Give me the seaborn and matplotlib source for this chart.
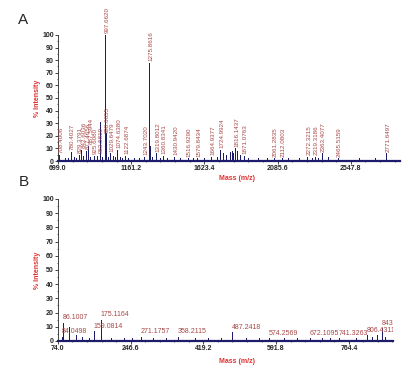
import numpy as np
import pandas as pd
import seaborn as sns
import matplotlib.pyplot as plt

# Panel A - labelled peaks (m/z, % intensity)
a_mz = [708.4006, 780.4027, 829.3791, 842.6036, 877.4656, 887.5944, 925.6080,
        963.5810, 997.6620, 998.6655, 1029.6479, 1074.6380, 1122.6874,
        1243.7020, 1275.8616, 1319.8012, 1360.8341, 1430.9420, 1516.9290,
        1579.8434, 1664.9377, 1724.9924, 1816.1437, 1871.0763, 2061.2835,
        2112.0803, 2272.3215, 2319.3186, 2363.4077, 2465.5159, 2771.6497]
a_int = [5, 7, 5, 9, 8, 12, 4, 31, 100, 55, 6, 9, 4, 3, 78, 6, 4, 3, 2, 2, 3,
         9, 10, 4, 2, 2, 3, 3, 6, 2, 6]
# Panel A - small unlabelled peaks
a_mz_minor = [740.5, 760.3, 800.2, 815.4, 855.3, 900.5, 945.6, 964.6, 980.2,
              999.66, 1000.7, 1015.3, 1045.2, 1060.6, 1090.4, 1105.3, 1140.2,
              1180.5, 1210.4, 1276.86, 1277.87, 1295.1, 1340.6, 1390.2,
              1470.8, 1550.3, 1620.5, 1700.4, 1742.1, 1760.6, 1785.3, 1798.2,
              1805.9, 1828.4, 1845.1, 1900.3, 1960.8, 2020.4, 2150.6, 2220.3,
              2300.5, 2340.2, 2400.6, 2600.3, 2700.5]
a_int_minor = [2, 2, 3, 2, 4, 3, 4, 12, 3, 22, 6, 3, 4, 3, 3, 2, 2, 2, 2, 40,
               12, 3, 2, 2, 2, 2, 2, 3, 6, 5, 7, 8, 6, 8, 5, 2, 2, 2, 2, 2, 2,
               2, 3, 2, 2]
a_ticks = [699.0, 1161.2, 1623.4, 2085.6, 2547.8]

# Panel B - labelled peaks
b_mz = [84.0498, 86.1007, 159.0814, 175.1164, 271.1757, 358.2115, 487.2418,
        574.2569, 672.1095, 741.3263, 806.4311, 843.4816]
b_int = [3, 13, 7, 15, 3, 3, 6, 2, 2, 2, 4, 9]
b_mz_minor = [101.1, 116.2, 130.1, 147.1, 200.1, 230.2, 250.1, 300.2, 330.2,
              400.3, 430.2, 460.3, 520.3, 550.3, 610.4, 640.3, 700.4, 720.4,
              780.4, 820.4, 830.5, 850.5]
b_int_minor = [10, 4, 3, 2, 2, 2, 2, 2, 2, 2, 2, 2, 2, 2, 2, 2, 2, 2, 2, 3, 4, 3]
b_ticks = [74.0, 246.6, 419.2, 591.8, 764.4]

peak_col = "#1c1c6a"
lab_col = "#a84848"
red = "#e03030"


def sticks(mz, inten):
    # turn peak list into a stick spectrum: baseline-top-baseline per peak
    rows = []
    for m, h in sorted(zip(mz, inten)):
        rows += [(m, 0.0), (m, h), (m, 0.0)]
    return pd.DataFrame(rows, columns=["mz", "int"])


sns.set_style("ticks")
plt.rcParams["font.family"] = ["Liberation Sans", "DejaVu Sans"]

fig = plt.figure(figsize=(4.08, 3.68), dpi=100)
axA = fig.add_axes([0.142, 0.5625, 0.838, 0.3425])
axB = fig.add_axes([0.142, 0.0734, 0.821, 0.386])

dfA = sticks(a_mz + a_mz_minor, a_int + a_int_minor)
dfB = sticks(b_mz + b_mz_minor, b_int + b_int_minor)

sns.lineplot(data=dfA, x="mz", y="int", sort=False, estimator=None,
             color=peak_col, lw=0.7, ax=axA)
sns.lineplot(data=dfB, x="mz", y="int", sort=False, estimator=None,
             color=peak_col, lw=0.7, ax=axB)

# labels A: rotated, on top of the peaks; low labels pushed apart a bit
low_label = {998.6655: 22, 963.5810: 6}
prev = -1e9
for m, h in zip(a_mz, a_int):
    y = low_label.get(m, h + 1.5)
    if y < 40:
        lx = max(m + 10, prev + 24)
        prev = lx
    else:
        lx = m + 10
    axA.text(lx, y, f"{m:.4f}", rotation=90, ha="center", va="bottom",
             fontsize=4.5, color=lab_col, clip_on=False)

# labels B: horizontal
for m, h in zip(b_mz, b_int):
    axB.text(m, h + 1, f"{m:.4f}", ha="left", va="bottom",
             fontsize=5, color=lab_col, clip_on=True)

for ax, ticks, xmax in [(axA, a_ticks, 2857), (axB, b_ticks, 869)]:
    ax.set_xlim(ticks[0], xmax)
    ax.set_ylim(0, 100)
    ax.set_xticks(ticks)
    ax.set_xticklabels([f"{t:.1f}" for t in ticks], fontsize=5, fontweight="bold")
    ax.set_yticks(range(0, 101, 10))
    ax.set_yticklabels([str(v) for v in range(0, 101, 10)], fontsize=5,
                       fontweight="bold")
    ax.set_xticks(np.arange(ticks[0], xmax, (ticks[1] - ticks[0]) / 5), minor=True)
    ax.set_yticks(range(0, 101, 5), minor=True)
    ax.tick_params(length=2, width=0.6, pad=1)
    ax.tick_params(which="minor", length=1, width=0.5)
    ax.set_ylabel("% Intensity", fontsize=5, color=red, fontweight="bold")
    ax.set_xlabel("Mass (m/z)", fontsize=5, color=red, fontweight="bold")
    ax.yaxis.set_label_coords(-0.05, 0.5)
    sns.despine(ax=ax)
    ax.spines["bottom"].set_color(peak_col)
    ax.spines["bottom"].set_linewidth(1.6)
    ax.spines["left"].set_linewidth(0.6)

axA.xaxis.set_label_coords(0.523, -0.11)
axB.xaxis.set_label_coords(0.534, -0.12)

fig.text(0.045, 0.945, "A", fontsize=11, va="center")
fig.text(0.045, 0.505, "B", fontsize=11, va="center")

fig.savefig("out.png", dpi=100)
